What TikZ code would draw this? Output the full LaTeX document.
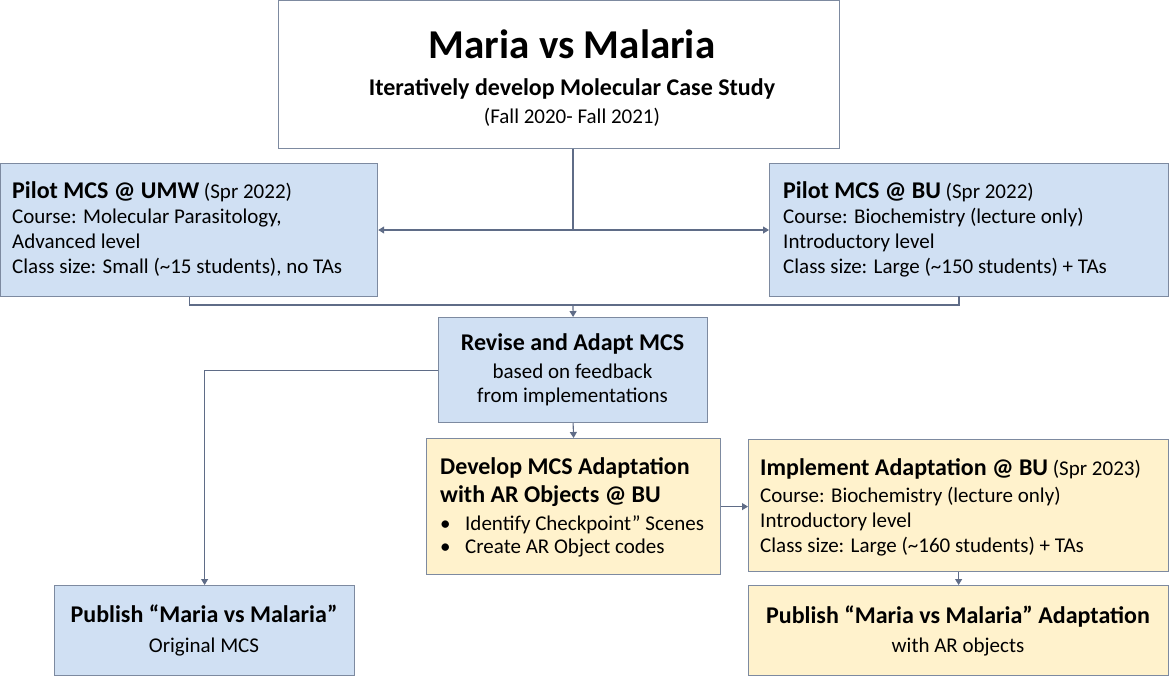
\documentclass[tikz,border=0pt]{standalone}
\usepackage{fontspec}
\setmainfont{Carlito}
\usetikzlibrary{arrows.meta}
\definecolor{bluefill}{RGB}{208,224,243}
\definecolor{yellowfill}{RGB}{255,242,204}
\definecolor{edgecol}{RGB}{125,138,160}
\definecolor{linecol}{RGB}{95,108,135}
\tikzset{
  x=1pt, y=-1pt,
  box/.style={draw=edgecol, line width=1.2pt, inner sep=0pt, anchor=north west},
  bluebox/.style={box, fill=bluefill},
  yellowbox/.style={box, fill=yellowfill},
  ln/.style={inner sep=0pt, anchor=base west, font=\fontsize{21}{25}\selectfont},
  lnc/.style={ln, anchor=base},
  conn/.style={draw=linecol, line width=1.1pt},
  arr/.style={conn, -{Triangle[width=7pt,length=6pt]}},
}
\newcommand{\hd}[1]{{\fontsize{24}{28}\selectfont\bfseries #1}}
\newcommand{\bul}{\makebox[25pt][l]{•}}
\begin{document}
\begin{tikzpicture}
\useasboundingbox (0,0) rectangle (1170,675);
% boxes
\node[box, fill=white, minimum width=561pt, minimum height=148pt] (title) at (278,0) {};
\node[lnc, font=\fontsize{41}{48}\selectfont\bfseries] (t1) at (572,58) {Maria vs Malaria};
\node[lnc, font=\fontsize{24}{28}\selectfont\bfseries] (t2) at (572,95) {Iteratively develop Molecular Case Study};
\node[lnc] (t3) at (572,123) {(Fall 2020- Fall 2021)};

\node[bluebox, minimum width=377pt, minimum height=133pt] (umw) at (0,163) {};
\node[ln] (u1) at (12,198) {\hd{Pilot MCS @ UMW} (Spr 2022)};
\node[ln] (u2) at (12,223) {Course: Molecular Parasitology,};
\node[ln] (u3) at (12,248) {Advanced level};
\node[ln] (u4) at (12,273) {Class size: Small (\textasciitilde15 students), no TAs};

\node[bluebox, minimum width=399pt, minimum height=133pt] (bu) at (769,163) {};
\node[ln] (b1) at (783,198) {\hd{Pilot MCS @ BU} (Spr 2022)};
\node[ln] (b2) at (783,223) {Course: Biochemistry (lecture only)};
\node[ln] (b3) at (783,248) {Introductory level};
\node[ln] (b4) at (783,273) {Class size: Large (\textasciitilde150 students) + TAs};

\node[bluebox, minimum width=269pt, minimum height=105pt] (rev) at (438,317) {};
\node[lnc] (r1) at (572.5,350) {\hd{Revise and Adapt MCS}};
\node[lnc] (r2) at (572.5,378) {based on feedback};
\node[lnc] (r3) at (572.5,402) {from implementations};

\node[yellowbox, minimum width=294pt, minimum height=136pt] (dev) at (426,438) {};
\node[ln] (d1) at (440,474) {\hd{Develop MCS Adaptation}};
\node[ln] (d2) at (440,502) {\hd{with AR Objects @ BU}};
\node[ln] (d3) at (440,530) {\bul Identify Checkpoint” Scenes};
\node[ln] (d4) at (440,553) {\bul Create AR Object codes};

\node[yellowbox, minimum width=420pt, minimum height=132pt] (impl) at (748,439) {};
\node[ln] (i1) at (760,475) {\hd{Implement Adaptation @ BU} (Spr 2023)};
\node[ln] (i2) at (760,502) {Course: Biochemistry (lecture only)};
\node[ln] (i3) at (760,527) {Introductory level};
\node[ln] (i4) at (760,552) {Class size: Large (\textasciitilde160 students) + TAs};

\node[bluebox, minimum width=300pt, minimum height=90pt] (pubo) at (54,585) {};
\node[lnc] (p1) at (204,622) {\hd{Publish “Maria vs Malaria”}};
\node[lnc] (p2) at (204,652) {Original MCS};

\node[yellowbox, minimum width=420pt, minimum height=90pt] (puba) at (748,585) {};
\node[lnc] (a1) at (958,623) {\hd{Publish “Maria vs Malaria” Adaptation}};
\node[lnc] (a2) at (958,652) {with AR objects};
% connectors
\coordinate (j1) at (573,230);
\coordinate (j2) at (573,305);
\coordinate (bub) at (959,296);
\draw[conn] (j1 |- title.south) -- (j1);
\draw[arr] (j1) -- (j1 -| umw.east);
\draw[arr] (j1) -- (j1 -| bu.west);
\draw[conn] (umw.south) |- (bub |- j2) -- (bub);
\draw[arr] (j2) -- (rev.north);
\draw[arr] (rev.west) -| (pubo.north);
\draw[arr] (rev.south) -- (dev.north);
\draw[arr] (dev.east) -- (dev.east -| impl.west);
\draw[arr] (impl.south) -- (puba.north);
\end{tikzpicture}
\end{document}
